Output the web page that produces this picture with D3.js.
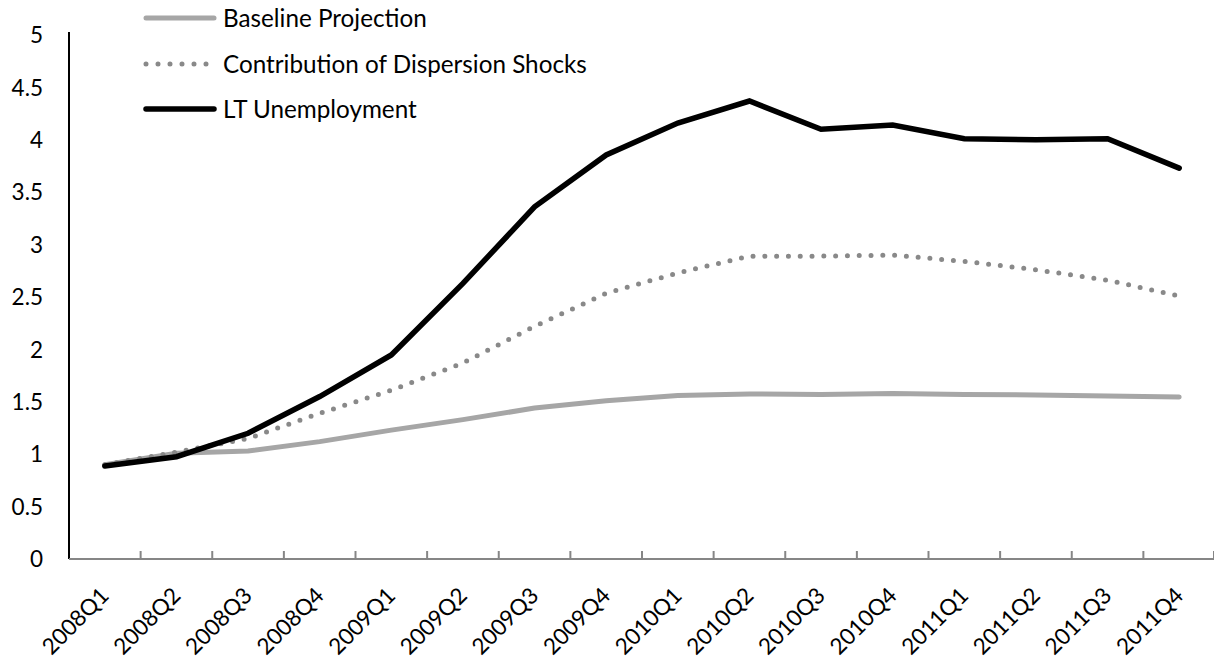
<!DOCTYPE html>
<html>
<head>
<meta charset="utf-8">
<script src="https://cdn.jsdelivr.net/npm/d3@7"></script>
<style>
  html, body { margin: 0; padding: 0; background: #fff; }
  svg { display: block; }
  text { font-family: Lato, "Liberation Sans", sans-serif; fill: #000; }
</style>
</head>
<body>
<svg id="chart" width="1214" height="658"></svg>
<script>
const categories = ["2008Q1","2008Q2","2008Q3","2008Q4","2009Q1","2009Q2","2009Q3","2009Q4",
                    "2010Q1","2010Q2","2010Q3","2010Q4","2011Q1","2011Q2","2011Q3","2011Q4"];
const baselineProjection = [0.90, 1.01, 1.03, 1.12, 1.23, 1.33, 1.44, 1.51, 1.56, 1.575, 1.57, 1.58, 1.57, 1.565, 1.555, 1.545];
const dispersionShocks   = [0.90, 1.02, 1.15, 1.39, 1.61, 1.87, 2.22, 2.535, 2.73, 2.89, 2.89, 2.90, 2.84, 2.76, 2.66, 2.51];
const ltUnemployment     = [0.887, 0.976, 1.20, 1.55, 1.947, 2.63, 3.36, 3.855, 4.16, 4.37, 4.10, 4.14, 4.01, 4.00, 4.01, 3.73];
const yTicks = [0, 0.5, 1, 1.5, 2, 2.5, 3, 3.5, 4, 4.5, 5];
const seriesNames = ["Baseline Projection", "Contribution of Dispersion Shocks", "LT Unemployment"];

(function () {
const svg = d3.select("#chart");
const mLeft = 69, mRight = 1215, mTop = 35, mBottom = 559;
const numFont = "22.5px";

const x = d3.scaleBand().domain(categories).range([mLeft, mRight]).padding(0);
const y = d3.scaleLinear().domain([0, 5]).range([mBottom, mTop]);

// Y axis labels
svg.append("g").selectAll("text").data(yTicks).join("text")
  .attr("x", 43).attr("y", d => y(d))
  .attr("dy", "0.36em")
  .attr("text-anchor", "end")
  .style("font-size", numFont)
  .text(d => d);

// Y axis line
svg.append("line")
  .attr("x1", mLeft).attr("x2", mLeft)
  .attr("y1", mTop - 3).attr("y2", mBottom)
  .attr("stroke", "#000").attr("stroke-width", 2);

// X axis
const xAxisG = svg.append("g").attr("transform", `translate(0,${mBottom})`);
xAxisG.append("line")
  .attr("x1", mLeft).attr("x2", mRight)
  .attr("stroke", "#868686").attr("stroke-width", 2);
const boundaries = categories.slice(1).map(c => x(c));
boundaries.push(mRight - 1);
xAxisG.selectAll("line.tick").data(boundaries).join("line")
  .attr("class", "tick")
  .attr("x1", d => d).attr("x2", d => d)
  .attr("y1", 0).attr("y2", -8)
  .attr("stroke", "#868686").attr("stroke-width", 2);

// X labels
svg.append("g").selectAll("text").data(categories).join("text")
  .attr("text-anchor", "end")
  .attr("transform", d => `translate(${x(d) + x.bandwidth() / 2 + 5.5},${597}) rotate(-45)`)
  .style("font-size", numFont)
  .text(d => d);

const line = d3.line()
  .x((d, i) => x(categories[i]) + x.bandwidth() / 2)
  .y(d => y(d));

svg.append("path").datum(baselineProjection)
  .attr("d", line).attr("fill", "none")
  .attr("stroke", "#a6a6a6").attr("stroke-width", 5)
  .attr("stroke-linecap", "round").attr("stroke-linejoin", "round");

svg.append("path").datum(dispersionShocks)
  .attr("d", line).attr("fill", "none")
  .attr("stroke", "#898989").attr("stroke-width", 5)
  .attr("stroke-dasharray", "0 11.8")
  .attr("stroke-linecap", "round");

svg.append("path").datum(ltUnemployment)
  .attr("d", line).attr("fill", "none")
  .attr("stroke", "#000").attr("stroke-width", 5.5)
  .attr("stroke-linecap", "round").attr("stroke-linejoin", "miter");

// Legend
const legendStyles = [
  { stroke: "#a6a6a6", dash: null, width: 5 },
  { stroke: "#898989", dash: "0 12", width: 5 },
  { stroke: "#000", dash: null, width: 5.5 }
];
const legendY = [18, 64, 109];
const lg = svg.append("g");
const legendTexts = [];
seriesNames.forEach((name, i) => {
  const s = legendStyles[i];
  const l = lg.append("line")
    .attr("x1", 146).attr("x2", i === 1 ? 207 : 214)
    .attr("y1", legendY[i]).attr("y2", legendY[i])
    .attr("stroke", s.stroke).attr("stroke-width", s.width)
    .attr("stroke-linecap", "round");
  if (s.dash) l.attr("stroke-dasharray", s.dash);
  legendTexts.push(lg.append("text")
    .attr("x", 223).attr("y", legendY[i])
    .attr("dy", "0.36em")
    .style("font-size", "22px")
    .text(name));
});
// fit legend font so the longest entry spans the same width as in the reference
const longest = legendTexts[1].node().getComputedTextLength();
const legendSize = Math.max(18, Math.min(26, 22 * 364 / longest));
legendTexts.forEach(t => t.style("font-size", legendSize + "px"));
})();
</script>
</body>
</html>
